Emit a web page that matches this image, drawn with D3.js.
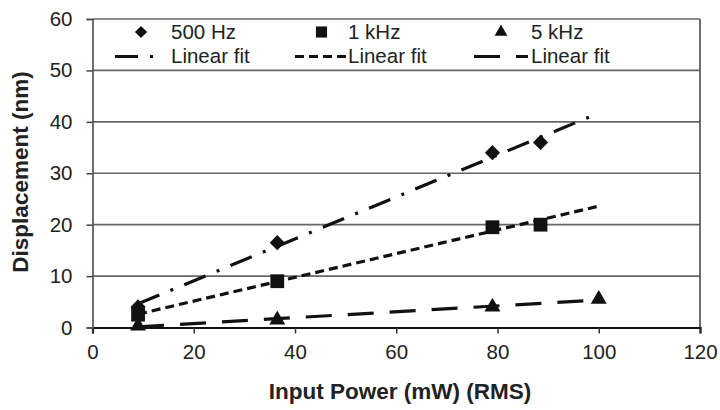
<!DOCTYPE html>
<html><head><meta charset="utf-8">
<script src="https://cdn.jsdelivr.net/npm/d3@7"></script>
<style>body{margin:0;background:#fff}svg{display:block;font-family:"Liberation Sans",Arial,sans-serif}</style>
</head><body><svg id="c" width="720" height="410"></svg>
<script>
const xTicks=[0,20,40,60,80,100,120];
const yTicks=[0,10,20,30,40,50,60];
const seriesNames=["500 Hz","1 kHz","5 kHz"];
const power500=[9,36.5,79,88.5];
const disp500=[4,16.5,34,36];
const power1k=[9,36.5,79,88.5];
const disp1k=[2.5,9,19.5,20];
const power5k=[9,36.5,79,100];
const disp5k=[0.3,1.5,4,5.5];
const fitX=[9,100];
const fit500=[4.6,41.7];
const fit1k=[2.6,23.6];
const fit5k=[0.15,5.35];
const fitLabel="Linear fit";
const xTitle="Input Power (mW) (RMS)";
const yTitle="Displacement (nm)";

const svg=d3.select("#c");
const x=d3.scaleLinear().domain([0,120]).range([92.5,700]);
const y=d3.scaleLinear().domain([0,60]).range([327.5,19]);
const ink="#111";
const fs=20.5;
const series=[
 {name:seriesNames[0],px:power500,py:disp500,fy:fit500,dash:"23,12,3,12",sym:"diamond"},
 {name:seriesNames[1],px:power1k,py:disp1k,fy:fit1k,dash:"9,5",sym:"square"},
 {name:seriesNames[2],px:power5k,py:disp5k,fy:fit5k,dash:"26,16",sym:"triangle"}
];
function symPath(kind,scale){
  if(kind==="diamond") return d3.symbol(d3.symbolSquare, 115*scale)();
  if(kind==="square") return d3.symbol(d3.symbolSquare, 190*scale)();
  return d3.symbol(d3.symbolTriangle, 110*scale)();
}
// gridlines
svg.append("g").selectAll("line").data(yTicks.filter(d=>d>0)).join("line")
  .attr("x1",x(0)).attr("x2",x(120)).attr("y1",d=>y(d)).attr("y2",d=>y(d))
  .attr("stroke","#666").attr("stroke-width",1.7);
// right border
svg.append("line").attr("x1",x(120)).attr("x2",x(120)).attr("y1",y(60)).attr("y2",y(0))
  .attr("stroke","#555").attr("stroke-width",1.7);

// axes
const gx=svg.append("g").attr("transform",`translate(0,${y(0)})`)
  .call(d3.axisBottom(x).tickValues(xTicks).tickSize(6).tickPadding(11));
gx.select(".domain").attr("stroke","#111").attr("stroke-width",2.2);
gx.selectAll(".tick line").attr("stroke","#333").attr("stroke-width",1.5);
gx.selectAll("text").attr("font-size",fs).attr("fill","#222").attr("font-family","Liberation Sans, Arial, sans-serif");
const gy=svg.append("g").attr("transform",`translate(${x(0)},0)`)
  .call(d3.axisLeft(y).tickValues(yTicks).tickSize(6).tickPadding(14));
gy.select(".domain").attr("stroke","#555").attr("stroke-width",1.7);
gy.selectAll(".tick line").attr("stroke","#444").attr("stroke-width",1.5);
gy.selectAll("text").attr("font-size",fs).attr("fill","#222").attr("font-family","Liberation Sans, Arial, sans-serif");

// fit lines
const line=d3.line().x(d=>x(d[0])).y(d=>y(d[1]));
series.forEach(s=>{
  svg.append("path").datum(fitX.map((v,i)=>[v,s.fy[i]])).attr("d",line)
   .attr("fill","none").attr("stroke",ink).attr("stroke-width",3.2).attr("stroke-dasharray",s.dash);
});
// markers
series.forEach(s=>{
  svg.append("g").selectAll("path").data(s.px.map((v,i)=>[v,s.py[i]])).join("path")
   .attr("d",symPath(s.sym,1))
   .attr("transform",d=>`translate(${x(d[0])},${y(d[1])})`+(s.sym==="diamond"?" rotate(45)":""))
   .attr("fill",ink);
});

// legend
const legX=[141,321.5,501];
const legLine=[[115,160],[295,347],[474,528]];
const legText=[171,348,531];
series.forEach((s,i)=>{
  svg.append("path").attr("d",symPath(s.sym,0.65))
   .attr("transform",`translate(${legX[i]},${32})`+(s.sym==="diamond"?" rotate(45)":""))
   .attr("fill",ink);
  svg.append("text").attr("x",legText[i]).attr("y",39).attr("font-size",fs).attr("fill","#222").text(s.name);
  svg.append("line").attr("x1",legLine[i][0]).attr("x2",legLine[i][1]).attr("y1",56.5).attr("y2",56.5)
   .attr("stroke",ink).attr("stroke-width",3.2).attr("stroke-dasharray",s.dash);
  svg.append("text").attr("x",legText[i]).attr("y",63).attr("font-size",fs).attr("fill","#222").text(fitLabel);
});

// titles
svg.append("text").attr("x",400).attr("y",399).attr("text-anchor","middle")
  .attr("font-size",22.5).attr("font-weight","bold").attr("fill","#222").text(xTitle);
svg.append("text").attr("transform",`translate(28,172) rotate(-90)`).attr("text-anchor","middle")
  .attr("font-size",22.5).attr("font-weight","bold").attr("fill","#222").text(yTitle);
</script></body></html>
